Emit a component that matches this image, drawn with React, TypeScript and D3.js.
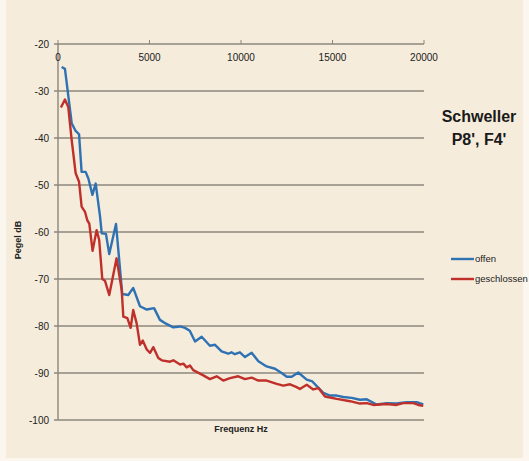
import React from 'react';
import * as d3 from 'd3';

// Frequenz in Hz / Pegel in dB
const offenHz = [200, 380, 750, 965, 1150, 1290, 1510, 1660, 1880, 2060, 2300, 2390, 2620, 2800, 3170, 3510, 3840, 4110, 4480, 4850, 5250, 5570, 5900, 6300, 6670, 6940, 7200, 7490, 7850, 8300, 8580, 8940, 9300, 9480, 9660, 9940, 10220, 10580, 10950, 11400, 11860, 12220, 12500, 12770, 13130, 13590, 13900, 14140, 14500, 14860, 15230, 15590, 16050, 16500, 16870, 17410, 17960, 18500, 19050, 19600, 19960];
const offenDb = [-24.9, -25.3, -36.9, -38.5, -39.2, -47.2, -47.2, -48.6, -52.1, -49.7, -56.8, -60.3, -60.4, -64.7, -58.3, -73.2, -73.4, -71.9, -75.8, -76.5, -76.2, -78.7, -79.5, -80.3, -80.1, -80.4, -81.0, -83.3, -82.3, -84.2, -84.0, -85.4, -85.9, -85.6, -86.0, -85.6, -86.6, -85.7, -87.5, -88.6, -89.1, -90.0, -90.8, -90.8, -89.9, -91.4, -91.8, -92.8, -94.2, -94.8, -94.8, -95.1, -95.3, -95.7, -95.6, -96.7, -96.4, -96.5, -96.2, -96.2, -96.7];

const geschlossenHz = [160, 380, 560, 750, 965, 1150, 1290, 1475, 1600, 1710, 1890, 2110, 2250, 2420, 2570, 2800, 3200, 3480, 3570, 3790, 3970, 4110, 4300, 4480, 4630, 4850, 5030, 5210, 5480, 5670, 6120, 6300, 6670, 6850, 7030, 7210, 7390, 7940, 8300, 8670, 9030, 9400, 9850, 10220, 10580, 10950, 11400, 11950, 12310, 12680, 13040, 13220, 13590, 13950, 14230, 14590, 15230, 15960, 16500, 16870, 17230, 17960, 18500, 18870, 19420, 19690, 19960];
const geschlossenDb = [-33.5, -31.8, -33.4, -40.5, -47.5, -49.3, -54.6, -55.7, -57.5, -58.2, -64.0, -59.6, -61.7, -70.0, -70.4, -73.4, -65.6, -72.3, -78.0, -78.3, -80.4, -76.6, -79.5, -84.0, -83.1, -85.0, -85.7, -84.5, -86.8, -87.3, -87.6, -87.3, -88.2, -88.0, -88.8, -88.4, -89.4, -90.5, -91.3, -90.7, -91.6, -91.1, -90.7, -91.3, -91.0, -91.6, -91.6, -92.3, -92.7, -92.4, -93.0, -93.4, -92.5, -93.5, -93.2, -95.0, -95.5, -96.0, -96.5, -96.4, -96.8, -96.6, -96.8, -96.4, -96.4, -96.8, -97.0];

const xTicks = [0, 5000, 10000, 15000, 20000];
const yTicks = [-20, -30, -40, -50, -60, -70, -80, -90, -100];

const series = [
    { name: 'offen', color: '#2f72b4', hz: offenHz, db: offenDb },
    { name: 'geschlossen', color: '#c0302b', hz: geschlossenHz, db: geschlossenDb },
];

export default function App() {
    const width = 529, height = 461;
    const x = d3.scaleLinear().domain([0, 20000]).range([58, 424]);
    const y = d3.scaleLinear().domain([-20, -100]).range([44, 420]);
    const line = d3.line<[number, number]>().x(d => x(d[0])).y(d => y(d[1]));
    const font = '"Liberation Sans", Arial, sans-serif';

    return (
        <svg width={width} height={height} style={{ position: 'absolute', left: 0, top: 0 }}>
            <rect width={width} height={height} fill="#fbf7ef" />
            <rect x={6} y={0} width={517} height={458} fill="#f5ecdb" />

            {/* Gitterlinien */}
            {yTicks.map(t => (
                <g key={t}>
                    <line x1={54} x2={424} y1={y(t)} y2={y(t)} stroke="#8c877c" strokeWidth={1.4} />
                    <text x={49} y={y(t)} dy="0.35em" textAnchor="end" fontSize={10} fontFamily={font} fill="#222">{t}</text>
                </g>
            ))}
            <line x1={x(0)} x2={x(0)} y1={y(-20)} y2={y(-100)} stroke="#8c877c" strokeWidth={1.4} />

            {/* x-Achse oben */}
            {xTicks.map(t => (
                <g key={t}>
                    <line x1={x(t)} x2={x(t)} y1={40} y2={y(-20)} stroke="#8c877c" strokeWidth={1} />
                    <text x={x(t)} y={57} dy="0.35em" textAnchor="middle" fontSize={10} fontFamily={font} fill="#222">{t}</text>
                </g>
            ))}

            {series.map(s => (
                <path key={s.name}
                    d={line(s.hz.map((f, i) => [f, s.db[i]] as [number, number])) || ''}
                    fill="none" stroke={s.color} strokeWidth={2.4} strokeLinejoin="round" />
            ))}

            {/* Achsentitel */}
            <text transform="translate(21,240) rotate(-90)" textAnchor="middle" fontSize={9} fontWeight="bold" fontFamily={font} fill="#222">Pegel dB</text>
            <text x={241} y={429} dy="0.35em" textAnchor="middle" fontSize={9} fontWeight="bold" fontFamily={font} fill="#222">Frequenz Hz</text>

            {/* Titel */}
            <text x={479} y={122} textAnchor="middle" fontSize={16} fontWeight="bold" fontFamily={font} fill="#1a1a1a">Schweller</text>
            <text x={479} y={145} textAnchor="middle" fontSize={16} fontWeight="bold" fontFamily={font} fill="#1a1a1a">P8', F4'</text>

            {/* Legende */}
            {series.map((s, i) => (
                <g key={s.name} transform={`translate(451,${259 + i * 20})`}>
                    <line x1={0} x2={23} y1={0} y2={0} stroke={s.color} strokeWidth={2.4} />
                    <text x={24} y={0} dy="0.35em" fontSize={9.5} fontFamily={font} fill="#222">{s.name}</text>
                </g>
            ))}
        </svg>
    );
}
